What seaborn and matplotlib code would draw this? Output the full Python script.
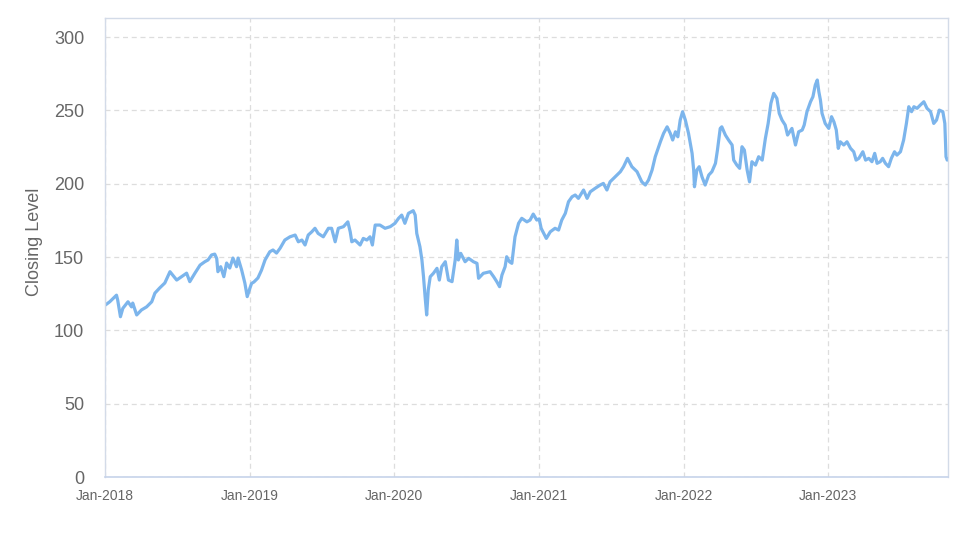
import matplotlib
matplotlib.use("Agg")
import matplotlib.pyplot as plt
import matplotlib.dates as mdates
import seaborn as sns
import pandas as pd

dates = [
    "2018-01-02", "2018-01-13", "2018-01-30", "2018-02-02", "2018-02-09", "2018-02-15", "2018-02-28",
    "2018-03-09", "2018-03-12", "2018-03-22", "2018-04-03", "2018-04-16", "2018-04-29", "2018-05-07",
    "2018-05-19", "2018-06-01", "2018-06-14", "2018-06-21", "2018-07-01", "2018-07-13", "2018-07-26",
    "2018-08-03", "2018-08-16", "2018-08-29", "2018-09-10", "2018-09-18", "2018-09-27", "2018-10-05",
    "2018-10-10", "2018-10-13", "2018-10-20", "2018-10-28", "2018-11-04", "2018-11-12", "2018-11-20",
    "2018-11-29", "2018-12-03", "2018-12-12", "2018-12-20", "2018-12-26",
    "2019-01-02", "2019-01-06", "2019-01-12", "2019-01-22", "2019-01-31", "2019-02-09", "2019-02-21",
    "2019-03-01", "2019-03-10", "2019-03-19", "2019-03-31", "2019-04-13", "2019-04-26", "2019-05-04",
    "2019-05-13", "2019-05-21", "2019-05-29", "2019-06-07", "2019-06-15", "2019-06-23", "2019-07-06",
    "2019-07-19", "2019-07-27", "2019-08-05", "2019-08-13", "2019-08-26", "2019-09-06", "2019-09-12",
    "2019-09-16", "2019-09-24", "2019-10-07", "2019-10-15", "2019-10-24", "2019-11-01", "2019-11-07",
    "2019-11-14", "2019-11-26", "2019-12-09", "2019-12-22",
    "2020-01-03", "2020-01-12", "2020-01-20", "2020-01-28", "2020-02-06", "2020-02-18", "2020-02-23",
    "2020-02-27", "2020-03-06", "2020-03-11", "2020-03-15", "2020-03-19", "2020-03-23", "2020-03-27",
    "2020-04-01", "2020-04-09", "2020-04-18", "2020-04-24", "2020-04-30", "2020-05-09", "2020-05-17",
    "2020-05-26", "2020-06-03", "2020-06-07", "2020-06-11", "2020-06-17", "2020-06-28", "2020-07-07",
    "2020-07-19", "2020-07-28", "2020-08-01", "2020-08-13", "2020-08-30", "2020-09-08", "2020-09-16",
    "2020-09-23", "2020-09-29", "2020-10-07", "2020-10-11", "2020-10-18", "2020-10-24", "2020-11-01",
    "2020-11-10", "2020-11-18", "2020-12-01", "2020-12-09", "2020-12-17", "2020-12-26",
    "2021-01-01", "2021-01-06", "2021-01-19", "2021-01-29", "2021-02-10", "2021-02-19", "2021-02-27",
    "2021-03-08", "2021-03-16", "2021-03-25", "2021-04-02", "2021-04-10", "2021-04-23", "2021-05-02",
    "2021-05-10", "2021-05-22", "2021-06-04", "2021-06-12", "2021-06-21", "2021-06-29", "2021-07-12",
    "2021-07-25", "2021-08-02", "2021-08-12", "2021-08-23", "2021-09-05", "2021-09-17", "2021-09-26",
    "2021-10-04", "2021-10-13", "2021-10-21", "2021-11-03", "2021-11-11", "2021-11-20", "2021-11-28",
    "2021-12-04", "2021-12-11", "2021-12-17", "2021-12-23", "2021-12-29",
    "2022-01-05", "2022-01-13", "2022-01-22", "2022-01-26", "2022-01-28", "2022-02-03", "2022-02-09",
    "2022-02-16", "2022-02-24", "2022-03-05", "2022-03-13", "2022-03-22", "2022-03-27", "2022-04-03",
    "2022-04-07", "2022-04-16", "2022-04-24", "2022-05-03", "2022-05-07", "2022-05-15", "2022-05-22",
    "2022-05-28", "2022-06-03", "2022-06-10", "2022-06-16", "2022-06-22", "2022-07-01", "2022-07-09",
    "2022-07-18", "2022-07-26", "2022-08-02", "2022-08-09", "2022-08-16", "2022-08-24", "2022-08-30",
    "2022-09-06", "2022-09-14", "2022-09-20", "2022-10-01", "2022-10-10", "2022-10-18", "2022-10-27",
    "2022-11-01", "2022-11-08", "2022-11-17", "2022-11-23", "2022-11-29", "2022-12-04", "2022-12-08",
    "2022-12-12", "2022-12-16", "2022-12-24",
    "2023-01-02", "2023-01-09", "2023-01-15", "2023-01-21", "2023-01-26", "2023-01-31", "2023-02-09",
    "2023-02-17", "2023-02-26", "2023-03-06", "2023-03-12", "2023-03-19", "2023-03-29", "2023-04-05",
    "2023-04-13", "2023-04-21", "2023-04-28", "2023-05-04", "2023-05-12", "2023-05-18", "2023-05-25",
    "2023-06-02", "2023-06-09", "2023-06-17", "2023-06-23", "2023-07-02", "2023-07-10", "2023-07-17",
    "2023-07-23", "2023-07-30", "2023-08-05", "2023-08-13", "2023-08-21", "2023-08-30", "2023-09-07",
    "2023-09-16", "2023-09-24", "2023-10-01", "2023-10-08", "2023-10-17", "2023-10-22", "2023-10-25",
    "2023-10-28",
]

closing = [
    117.3, 119.5, 124.0, 120.7, 109.3, 115.0, 119.5,
    116.0, 118.6, 110.5, 113.9, 116.0, 119.5, 125.4,
    128.9, 132.3, 140.0, 137.7, 134.3, 136.6, 139.0,
    133.2, 139.0, 144.5, 146.8, 148.0, 151.4, 152.0,
    149.0, 140.0, 143.4, 136.6, 145.9, 142.5, 149.3,
    143.4, 149.3, 141.1, 132.3, 123.0,
    128.9, 132.0, 133.0, 135.7, 141.0, 148.0, 153.6,
    154.8, 152.7, 156.0, 161.6, 163.8, 165.0, 160.4,
    161.6, 158.2, 165.0, 167.2, 169.6, 166.1, 163.8,
    169.6, 169.6, 160.4, 169.6, 170.7, 174.0, 167.2,
    160.4, 161.6, 158.2, 162.7, 161.6, 163.8, 158.2,
    171.8, 171.8, 169.6, 170.7,
    173.0, 176.4, 178.6, 173.0, 179.8, 181.6, 178.6,
    166.1, 157.0, 148.0, 136.6, 123.0, 110.5, 127.5,
    136.6, 138.9, 142.3, 134.3, 143.4, 146.8, 134.3,
    133.2, 148.0, 161.6, 148.0, 152.5, 146.8, 149.1,
    146.8, 145.7, 135.5, 138.9, 140.0, 136.6, 133.2,
    129.8, 137.7, 143.4, 150.2, 146.8, 145.7, 163.8,
    173.0, 176.4, 174.0, 175.2, 179.3, 175.2,
    176.0, 169.6, 162.7, 167.2, 169.6, 168.4, 175.2,
    179.8, 187.7, 191.1, 192.3, 190.0, 195.7, 190.0,
    194.5, 196.8, 199.1, 200.2, 195.7, 201.3, 204.7,
    208.2, 211.6, 217.3, 211.6, 208.2, 201.3, 199.1,
    202.5, 209.3, 218.4, 228.6, 234.3, 238.8, 234.3,
    229.8, 235.4, 232.0, 243.4, 249.1,
    243.4, 234.3, 220.7, 209.3, 197.9, 209.3, 211.6,
    204.7, 199.1, 205.9, 208.2, 213.9, 222.9, 237.7,
    238.8, 233.2, 229.8, 226.4, 216.1, 212.7, 210.5,
    225.2, 222.9, 209.3, 201.3, 215.0, 212.7, 218.4,
    216.1, 230.9, 241.1, 254.8, 261.6, 258.2, 248.0,
    243.4, 240.0, 233.2, 237.7, 226.4, 235.4, 236.6,
    240.0, 249.1, 255.9, 259.3, 267.3, 270.7, 262.7,
    257.0, 248.0, 241.1,
    237.7, 245.7, 242.2, 236.6, 224.1, 228.6, 226.4,
    228.6, 224.1, 221.8, 216.1, 217.3, 221.8, 216.1,
    217.3, 215.0, 220.7, 213.9, 215.0, 217.3, 213.9,
    211.6, 217.3, 221.8, 219.5, 221.8, 229.8, 241.1,
    252.5, 249.1, 252.5, 251.4, 253.6, 255.9, 251.4,
    249.1, 241.1, 243.4, 250.2, 249.1, 241.1, 218.4,
    216.1,
]

y_ticks = [0, 50, 100, 150, 200, 250, 300]

df = pd.DataFrame({"date": pd.to_datetime(dates), "close": closing})

sns.set_theme(style="white")
plt.rcParams["font.family"] = ["Liberation Sans", "DejaVu Sans"]

fig = plt.figure(figsize=(9.74, 5.47), dpi=100)
ax = fig.add_axes([105 / 974, 1 - 477 / 547, 843 / 974, 459 / 547])

sns.lineplot(data=df, x="date", y="close", ax=ax, color="#7cb5ec", linewidth=2.3)

ax.set_ylim(0, 313)
ax.set_yticks(y_ticks)
ax.set_xlim(pd.Timestamp("2018-01-01"), pd.Timestamp("2023-10-30"))
ax.xaxis.set_major_locator(mdates.YearLocator())
ax.xaxis.set_major_formatter(mdates.DateFormatter("%b-%Y"))

ax.grid(True, linestyle=(0, (4, 3)), color="#dddddd", linewidth=0.9)
for side in ["left", "right", "top"]:
    ax.spines[side].set_color("#d3dbe8")
    ax.spines[side].set_linewidth(1.0)
ax.spines["bottom"].set_color("#c6d3ea")
ax.spines["bottom"].set_linewidth(1.2)

ax.tick_params(axis="y", length=0, pad=15, labelsize=13, labelcolor="#666666")
ax.tick_params(axis="x", length=5, width=1, color="#c6d3ea", pad=4, labelsize=10, labelcolor="#666666")

ax.set_xlabel("")
ax.set_ylabel("Closing Level", fontsize=13, color="#666666")
ax.yaxis.set_label_coords(-0.074, 0.512)

fig.savefig("out.png", dpi=100)
